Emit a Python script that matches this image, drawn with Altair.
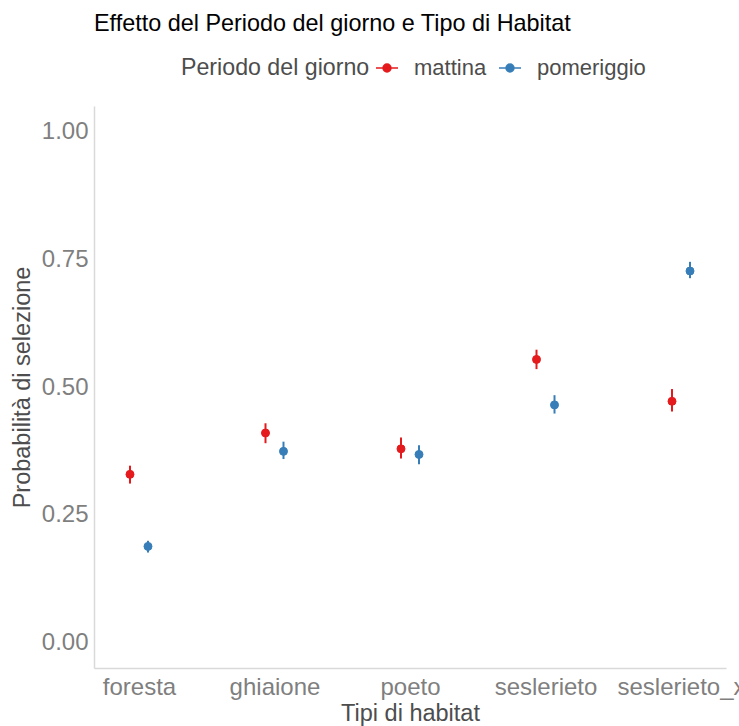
import altair as alt
import pandas as pd

# Habitat categories and estimated selection probabilities (with intervals)
habitat = ["foresta", "ghiaione", "poeto", "seslerieto", "seslerieto_x"]
periodi = ["mattina", "pomeriggio"]

mattina_prob = [0.329, 0.410, 0.379, 0.554, 0.472]
mattina_low = [0.311, 0.390, 0.360, 0.535, 0.452]
mattina_high = [0.346, 0.429, 0.401, 0.573, 0.496]

pomeriggio_prob = [0.188, 0.374, 0.368, 0.465, 0.727]
pomeriggio_low = [0.176, 0.359, 0.349, 0.448, 0.713]
pomeriggio_high = [0.199, 0.393, 0.386, 0.484, 0.745]

colori = ["#E41A1C", "#377EB8"]

rows = []
for per, p, lo, hi in [
    ("mattina", mattina_prob, mattina_low, mattina_high),
    ("pomeriggio", pomeriggio_prob, pomeriggio_low, pomeriggio_high),
]:
    for h, v, l, u in zip(habitat, p, lo, hi):
        rows.append({"habitat": h, "periodo": per, "prob": v, "low": l, "high": u})
df = pd.DataFrame(rows)

FONT = "Liberation Sans"

x_enc = alt.X(
    "habitat:N",
    sort=habitat,
    scale=alt.Scale(type="point", padding=0.332),
    axis=alt.Axis(
        title="Tipi di habitat",
        labelAngle=0,
        labelFontSize=24,
        labelColor="#7f7f7f",
        labelPadding=7,
        labelLimit=300,
        titleFontSize=23.5,
        titleColor="#4d4d4d",
        titlePadding=2,
        titleFontWeight="normal",
        domainColor="#d9d9d9",
        domainWidth=1.5,
        ticks=False,
        grid=False,
        labelFont=FONT,
        titleFont=FONT,
    ),
)

y_scale = alt.Scale(domain=[-0.05, 1.05], nice=False, zero=False)
y_axis = alt.Axis(
    title="Probabilità di selezione",
    values=[0, 0.25, 0.5, 0.75, 1.0],
    format=".2f",
    labelFontSize=24,
    labelColor="#7f7f7f",
    labelPadding=6,
    titleFontSize=23.5,
    titleColor="#4d4d4d",
    titlePadding=7,
    titleFontWeight="normal",
    domainColor="#d9d9d9",
    domainWidth=1.5,
    ticks=False,
    grid=False,
    labelFont=FONT,
    titleFont=FONT,
)

legend = alt.Legend(
    title="Periodo del giorno",
    orient="none",
    legendX=87,
    legendY=-50,
    direction="horizontal",
    titleOrient="left",
    titlePadding=5,
    titleLimit=400,
    titleFontSize=23.2,
    titleFontWeight="normal",
    titleColor="#4d4d4d",
    titleFont=FONT,
    labelFontSize=22,
    labelColor="#4d4d4d",
    labelFont=FONT,
    labelOffset=15,
    labelLimit=300,
    columnPadding=9,
    symbolType="M-1,0L1,0M0.36,0A0.36,0.36,0,1,1,-0.36,0A0.36,0.36,0,1,1,0.36,0Z",
    symbolSize=484,
    symbolStrokeWidth=1.5,
    symbolOpacity=1,
)

color_scale = alt.Scale(domain=periodi, range=colori)
stroke_enc = alt.Stroke("periodo:N", sort=periodi, scale=color_scale, legend=legend)
fill_enc = alt.Fill("periodo:N", sort=periodi, scale=color_scale, legend=legend)

layers = []
for per, dx in zip(periodi, [-9, 9]):
    base = alt.Chart(df).transform_filter(alt.datum.periodo == per)
    rule = base.mark_rule(strokeWidth=2, xOffset=dx).encode(
        x=x_enc,
        y=alt.Y("low:Q", scale=y_scale, axis=y_axis),
        y2="high:Q",
        stroke=stroke_enc,
    )
    pt = base.mark_point(size=64, strokeWidth=1, opacity=1, fillOpacity=1, xOffset=dx).encode(
        x=x_enc,
        y=alt.Y("prob:Q", scale=y_scale, axis=y_axis),
        stroke=stroke_enc,
        fill=fill_enc,
    )
    layers += [rule, pt]

chart = (
    alt.layer(*layers)
    .properties(
        width=632,
        height=562,
        background="white",
        title=alt.Title(
            "Effetto del Periodo del giorno e Tipo di Habitat",
            anchor="start",
            frame="group",
            fontSize=23.4,
            font=FONT,
            fontWeight="normal",
            color="#000000",
            offset=20,
        ),
        autosize=alt.AutoSizeParams(type="none"),
        padding={"left": 94, "top": 106, "right": 13, "bottom": 58},
    )
    .configure_view(stroke="transparent", strokeWidth=0)
)

chart.save("out.html", embed_options={"renderer": "svg", "actions": False})
